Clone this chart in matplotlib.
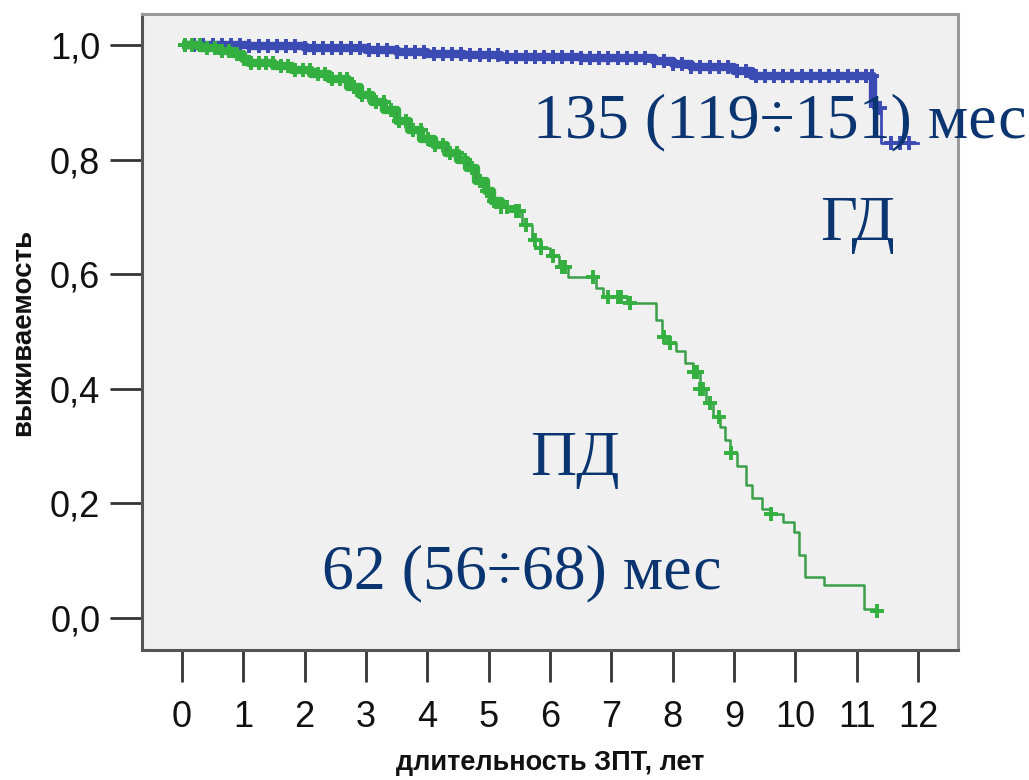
import numpy as np
import matplotlib
matplotlib.use("Agg")
import matplotlib.pyplot as plt

# ---- data ----
# ГД (blue) Kaplan-Meier steps: time (years) -> survival after step
gd_times = [0.0, 1.1, 2.0, 3.0, 3.5, 4.0, 4.6, 5.2, 6.5, 7.7, 8.0, 8.3, 9.0, 9.3, 11.27, 11.4, 12.0]
gd_surv  = [1.0, 0.998, 0.995, 0.992, 0.988, 0.985, 0.982, 0.979, 0.977, 0.972, 0.966, 0.962, 0.955, 0.946, 0.89, 0.828, 0.828]
gd_censor = [0.05, 0.2, 0.35, 0.5, 0.65, 0.8, 0.95, 1.1, 1.25, 1.4, 1.55, 1.7, 1.85, 2.0, 2.15,
             2.3, 2.45, 2.6, 2.75, 2.9, 3.05, 3.2, 3.35, 3.5, 3.65, 3.8, 3.95, 4.1, 4.25, 4.4,
             4.55, 4.7, 4.85, 5.0, 5.15, 5.3, 5.45, 5.6, 5.75, 5.9, 6.05, 6.2, 6.35, 6.5, 6.65,
             6.8, 6.95, 7.1, 7.25, 7.4, 7.55, 7.7, 7.85, 8.0, 8.15, 8.3, 8.45, 8.6, 8.75, 8.9,
             9.05, 9.2, 9.35, 9.5, 9.65, 9.8, 9.95, 10.1, 10.25, 10.4, 10.55, 10.7, 10.85, 11.0,
             11.15, 11.25, 11.38, 11.55, 11.7, 11.85]

# ПД (green) Kaplan-Meier steps
pd_times = [0.0, 0.3, 0.6, 0.83, 1.0, 1.1, 1.5, 1.8, 2.1, 2.4, 2.7, 2.9, 3.1, 3.3, 3.5, 3.7, 3.9,
            4.1, 4.3, 4.5, 4.65, 4.8, 4.95, 5.05, 5.2, 5.4, 5.55, 5.7, 5.85, 6.0, 6.15, 6.3, 6.75,
            6.86, 7.26, 7.72, 7.82, 7.9, 8.05, 8.2, 8.33, 8.45, 8.55, 8.65, 8.77, 8.85, 8.94, 9.05,
            9.2, 9.3, 9.45, 9.6, 9.8, 9.97, 10.05, 10.16, 10.47, 11.12, 11.33]
pd_surv  = [1.0, 0.995, 0.99, 0.985, 0.975, 0.968, 0.963, 0.957, 0.95, 0.94, 0.926, 0.912, 0.9,
            0.886, 0.868, 0.852, 0.836, 0.826, 0.812, 0.8, 0.785, 0.762, 0.745, 0.728, 0.718, 0.71,
            0.685, 0.66, 0.645, 0.632, 0.612, 0.595, 0.575, 0.56, 0.55, 0.52, 0.49, 0.48, 0.465,
            0.445, 0.43, 0.40, 0.375, 0.35, 0.333, 0.31, 0.288, 0.265, 0.232, 0.21, 0.19, 0.182,
            0.168, 0.15, 0.11, 0.072, 0.058, 0.015, 0.012]
pd_censor = [0.05, 0.17, 0.29, 0.41, 0.53, 0.65, 0.77, 0.89, 1.01, 1.13, 1.25, 1.37, 1.49, 1.61,
             1.73, 1.85, 1.97, 2.09, 2.21, 2.33, 2.45, 2.57, 2.69, 2.81, 2.93, 3.05, 3.17, 3.29,
             3.41, 3.53, 3.65, 3.77, 3.89, 4.01, 4.13, 4.25, 4.37, 4.49, 4.61, 4.73, 4.85, 4.97,
             5.09, 5.2, 5.3, 5.45, 5.5, 5.6, 5.75, 5.85, 6.05, 6.2, 6.25, 6.7, 6.95, 7.1, 7.15,
             7.3, 7.85, 7.95, 8.35, 8.4, 8.45, 8.5, 8.6, 8.75, 8.95, 9.6, 11.33]

x_ticks = list(range(0, 13))
y_ticks = [0.0, 0.2, 0.4, 0.6, 0.8, 1.0]
y_ticklabels = ["0,0", "0,2", "0,4", "0,6", "0,8", "1,0"]

BLUE = "#3c4bb4"
GREEN = "#33b03f"
GREEN_LINE = "#3a9f48"
NAVY = "#0b3570"

# index ranges where censor marks are so dense they fuse into a band
GD_DENSE_END = 15   # up to the step at 11.27
PD_DENSE_END = 25   # up to the step at 5.2


def step_value(times, surv, t):
    idx = np.searchsorted(times, t, side="right") - 1
    return np.asarray(surv)[idx]


fig = plt.figure(figsize=(10.29, 7.8), dpi=100)
ax = fig.add_axes([142 / 1029, 1 - 650 / 780, (958 - 142) / 1029, (650 - 14) / 780])
ax.set_facecolor("#f0f0f0")

# blue curve
ax.plot(gd_times[:GD_DENSE_END], gd_surv[:GD_DENSE_END], drawstyle="steps-post", color=BLUE,
        lw=6, solid_capstyle="butt", zorder=3)
ax.plot(gd_times, gd_surv, drawstyle="steps-post", color=BLUE, lw=2, zorder=3)
ax.plot(gd_censor, step_value(gd_times, gd_surv, gd_censor), ls="none", marker="+",
        ms=10, mew=2.8, color=BLUE, zorder=3)

# green curve
ax.plot(pd_times[:PD_DENSE_END], pd_surv[:PD_DENSE_END], drawstyle="steps-post", color=GREEN,
        lw=6, solid_capstyle="butt", zorder=4)
ax.plot(pd_times, pd_surv, drawstyle="steps-post", color=GREEN_LINE, lw=1.8, zorder=4)
ax.plot(pd_censor, step_value(pd_times, pd_surv, pd_censor), ls="none", marker="+",
        ms=10, mew=2.8, color=GREEN, zorder=4)

ax.set_xlim(-0.652, 12.65)
ax.set_ylim(-0.056, 1.054)
ax.set_xticks(x_ticks)
ax.set_xticklabels([str(v) for v in x_ticks])
ax.set_yticks(y_ticks)
ax.set_yticklabels(y_ticklabels)

for s in ["left", "bottom"]:
    ax.spines[s].set_color("#555555")
    ax.spines[s].set_linewidth(2.2)
for s in ["top", "right"]:
    ax.spines[s].set_color("#9a9a9a")
    ax.spines[s].set_linewidth(2.2)

ax.tick_params(axis="both", direction="out", length=23, width=2, color="#333333",
               labelsize=26, labelcolor="#111111")
ax.tick_params(axis="x", pad=13)
ax.tick_params(axis="y", pad=7)
for lab in ax.get_xticklabels() + ax.get_yticklabels():
    lab.set_family("Liberation Sans")

fig.text(550 / 1029, 1 - 763 / 780, "длительность ЗПТ, лет", ha="center", va="center",
         fontsize=19.5, fontweight="bold", family="Liberation Sans", color="#111111")
fig.text(23 / 1029, 1 - 332 / 780, "выживаемость", ha="center", va="center", rotation=90,
         fontsize=20, fontweight="bold", family="Liberation Sans", color="#111111")

# annotations
tkw = dict(color=NAVY, family="Liberation Serif", fontsize=46, clip_on=False, zorder=10)
ax.text(5.72, 0.839, "135 (119÷151) мес", ha="left", va="baseline", **tkw)
ax.text(10.4, 0.66, "ГД", ha="left", va="baseline", **tkw)
ax.text(5.67, 0.2496, "ПД", ha="left", va="baseline", **tkw)
ax.text(2.28, 0.052, "62 (56÷68) мес", ha="left", va="baseline", **tkw)

fig.savefig("out.png", dpi=100, facecolor="white")
